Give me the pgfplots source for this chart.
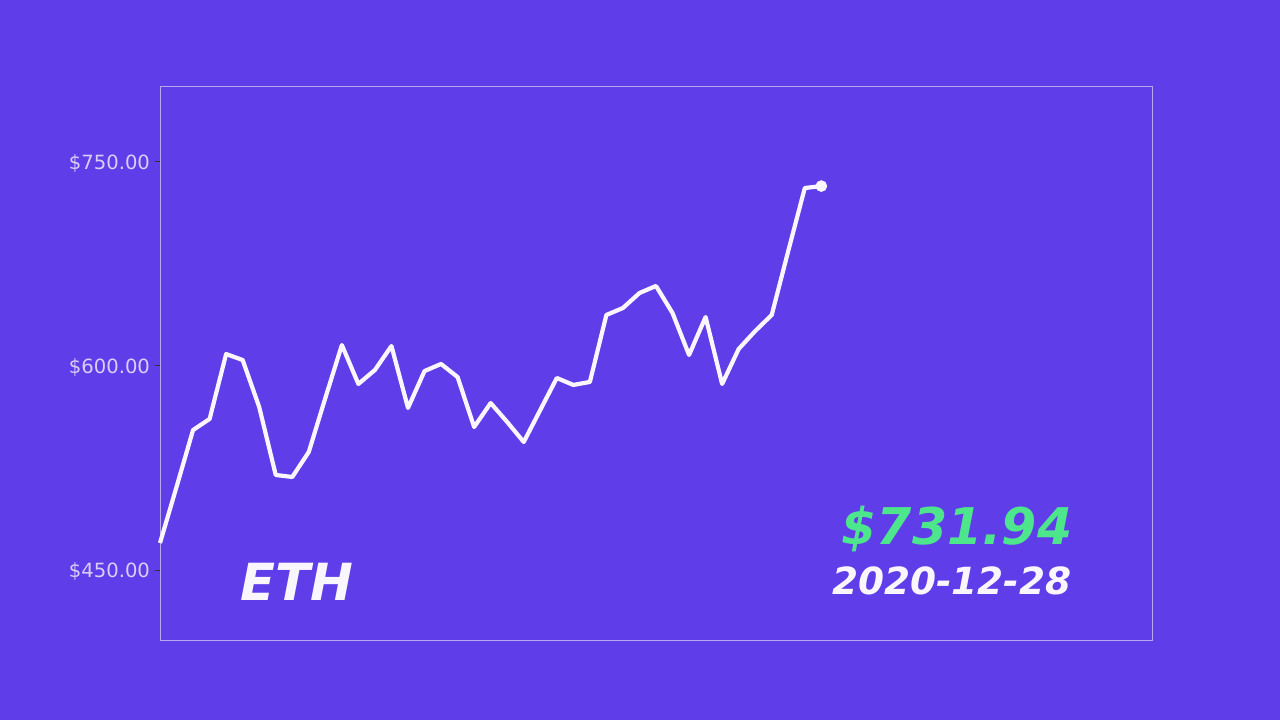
\documentclass[border=0pt]{standalone}
\usepackage{pgfplots}
\pgfplotsset{compat=1.18}
\usetikzlibrary{backgrounds}
\usepackage{fontspec}
\setmainfont{DejaVu Sans}

\definecolor{bgpurple}{RGB}{95,61,232}
\definecolor{framecol}{RGB}{184,168,240}
\definecolor{ticklab}{RGB}{217,207,245}
\definecolor{linecol}{RGB}{250,246,255}
\definecolor{pricegreen}{RGB}{78,230,140}

% ETH closing prices, one point per day up to 2020-12-28
\pgfplotstableread{
day price
0 469.8
1 511.0
2 552.8
3 560.9
4 608.6
5 604.2
6 569.7
7 519.8
8 518.3
9 536.7
10 576.3
11 615.2
12 586.6
13 596.9
14 614.5
15 569.0
16 596.1
17 601.3
18 591.7
19 555.0
20 572.6
21 558.7
22 544.0
23 567.5
24 591.0
25 585.9
26 588.1
27 637.3
28 642.4
29 653.4
30 658.6
31 638.7
32 607.9
33 635.8
34 586.6
35 612.3
36 625.5
37 637.3
38 684.3
39 730.5
40 731.94
}\ethdata

\begin{document}
\begin{tikzpicture}
\begin{axis}[
    name=ax,
    width=496bp, height=276.5bp, scale only axis,
    xmin=0, xmax=60,
    ymin=398.6, ymax=804.7,
    axis line style={framecol, line width=0.5pt},
    xtick=\empty,
    ytick={450,600,750},
    yticklabels={\$450.00,\$600.00,\$750.00},
    ytick pos=left,
    tick align=outside,
    major tick length=2.5bp,
    tick style={black!80, line width=0.4pt},
    yticklabel style={ticklab, font=\fontsize{9.8bp}{11bp}\selectfont, xshift=1bp, yshift=-0.8bp},
    /pgf/number format/assume math mode=true,
    clip=false,
]
\addplot[linecol, line width=2.1bp, line join=round] table[x=day, y=price] {\ethdata};
\addplot[linecol, only marks, mark=*, mark size=2.7bp, mark options={fill=linecol, draw=linecol}]
    coordinates {(40,731.94)};
\node[anchor=base west, text=linecol, font=\fontsize{25.6bp}{30bp}\selectfont\bfseries\itshape, inner sep=0pt]
    at (rel axis cs:0.0806,0.0723) {ETH};
\node[anchor=base east, text=pricegreen, font=\fontsize{25.3bp}{30bp}\selectfont\bfseries\itshape, inner sep=0pt]
    at (rel axis cs:0.920,0.172) {\$731.94};
\node[anchor=base east, text=linecol, font=\fontsize{18.7bp}{23bp}\selectfont\bfseries\itshape, inner sep=0pt]
    at (rel axis cs:0.919,0.0814) {2020-12-28};
\end{axis}
\begin{scope}[on background layer]
\fill[bgpurple] ([shift={(-80bp,-40bp)}]ax.south west) rectangle ([shift={(560bp,320bp)}]ax.south west);
\end{scope}
\end{tikzpicture}
\end{document}
